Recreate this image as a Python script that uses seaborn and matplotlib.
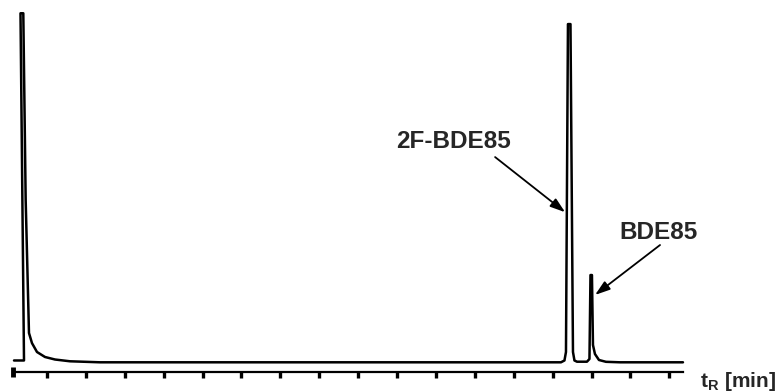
import numpy as np
import pandas as pd
import seaborn as sns
import matplotlib.pyplot as plt

# trace: retention time (min) and detector response (% of solvent peak)
t_min = [0.152, 0.409, 0.319, 0.391, 0.452, 0.537, 0.614, 0.743, 0.949, 1.206, 1.591, 2.362,
         14.214, 14.303, 14.342, 14.393, 14.458, 14.522, 14.560, 14.625, 14.882,
         14.946, 14.972, 15.010, 15.036, 15.087, 15.190, 15.370, 15.730, 17.350]
response = [0.52, 0.52, 100.0, 100.0, 46.5, 8.4, 5.5, 2.95, 1.52, 0.80, 0.29, 0.0,
            0.0, 0.52, 2.95, 96.9, 96.9, 2.95, 0.52, 0.17, 0.17,
            0.95, 25.0, 25.0, 4.96, 2.38, 0.66, 0.14, 0.0, 0.0]

tick_min = list(range(1, 18))

peak_labels = ["2F-BDE85", "BDE85"]
label_pos = [(11.45, 63.4), (16.72, 37.2)]
arrow_tail = [(12.52, 58.8), (16.76, 33.6)]
arrow_tip = [(14.32, 43.0), (15.09, 19.3)]

df = pd.DataFrame({"t": t_min, "signal": response})

sns.set_style("white")
plt.rcParams['font.family'] = ['Liberation Sans', 'DejaVu Sans']
plt.rcParams['mathtext.fontset'] = 'custom'
plt.rcParams['mathtext.rm'] = 'Liberation Sans:bold'
plt.rcParams['mathtext.bf'] = 'Liberation Sans:bold'

fig = plt.figure(figsize=(7.81, 3.92), dpi=100)
ax = fig.add_axes([0, 0, 1, 1])

sns.lineplot(data=df, x="t", y="signal", sort=False, estimator=None,
             color="black", linewidth=1.8, ax=ax)

ax.set_xlim(-0.208, 19.87)
ax.set_ylim(-8.51, 103.8)

# time axis drawn below the baseline
axis_y = -2.78
for s in ["left", "right", "top"]:
    ax.spines[s].set_visible(False)
ax.spines["bottom"].set_position(("data", axis_y))
ax.spines["bottom"].set_bounds(t_min[0], t_min[-1])
ax.spines["bottom"].set_linewidth(1.6)
ax.spines["bottom"].set_color("black")
ax.set_xticks(tick_min)
ax.set_xticklabels([])
ax.set_yticks([])
ax.tick_params(axis="x", bottom=True, direction="out", length=4.5, width=2.4,
               color="black")
ax.plot([t_min[0] - 0.03], [axis_y], marker="|", markersize=7, mew=3.5, color="black",
        clip_on=False)
ax.set_xlabel("")
ax.set_ylabel("")

for lab, pos, tail, tip in zip(peak_labels, label_pos, arrow_tail, arrow_tip):
    ax.text(pos[0], pos[1], lab, ha="center", va="center", fontsize=17.5,
            fontweight="bold")
    ax.annotate("", xy=tip, xytext=tail,
                arrowprops=dict(arrowstyle="-|>,head_length=0.9,head_width=0.3",
                                color="black", lw=1.3, shrinkA=0, shrinkB=0))

ax.text(17.8, -7.0, r"t$_\mathregular{R}$ [min]", ha="left", va="baseline",
        fontsize=15, fontweight="bold")

fig.savefig("out.png", dpi=100)
